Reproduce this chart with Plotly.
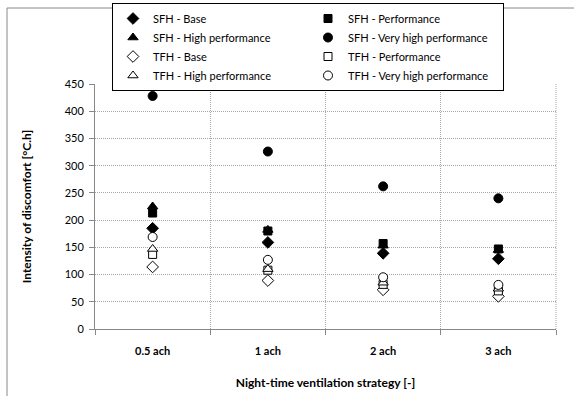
import plotly.graph_objects as go

categories = ["0.5 ach", "1 ach", "2 ach", "3 ach"]

sfh_base = [185, 159, 139, 129]
sfh_perf = [213, 180, 157, 147]
sfh_high = [225, 182, 153, 145]
sfh_vhigh = [428, 326, 262, 240]
tfh_base = [114, 89, 72, 60]
tfh_perf = [137, 108, 82, 70]
tfh_high = [147, 110, 85, 74]
tfh_vhigh = [169, 127, 95, 81]

y_ticks = [0, 50, 100, 150, 200, 250, 300, 350, 400, 450]

series = [
    ("SFH - Base", sfh_base, "diamond", "black", 9),
    ("SFH - Performance", sfh_perf, "square", "black", 8),
    ("SFH - High performance", sfh_high, "triangle-up", "black", 9),
    ("SFH - Very high performance", sfh_vhigh, "circle", "black", 9),
    ("TFH - Base", tfh_base, "diamond", "white", 9),
    ("TFH - Performance", tfh_perf, "square", "white", 8),
    ("TFH - High performance", tfh_high, "triangle-up", "white", 9),
    ("TFH - Very high performance", tfh_vhigh, "circle", "white", 9),
]

fig = go.Figure()
for name, vals, sym, col, size in series:
    fig.add_trace(go.Scatter(
        x=categories, y=vals, mode="markers", name=name,
        marker=dict(symbol=sym, color=col, size=size,
                    line=dict(color="black", width=1)),
    ))

W, H = 574, 405
L, R, T, B = 95, 556, 84, 329
GRID = "#a8a8a8"
DOT = "1px,1px"

fig.update_layout(
    width=W, height=H,
    margin=dict(l=L, r=W - R, t=T, b=H - B, autoexpand=False),
    paper_bgcolor="white", plot_bgcolor="white",
    font=dict(family="Lato, Open Sans, sans-serif", size=11, color="black"),
    showlegend=True,
    legend=dict(
        orientation="h", entrywidth=150, entrywidthmode="pixels",
        x=(112 - L) / (R - L), xanchor="left",
        y=(B - 3) / (B - T), yanchor="top",
        bordercolor="black", borderwidth=1, bgcolor="white",
        font=dict(size=11), itemsizing="trace",
        tracegroupgap=0, itemwidth=30,
    ),
    xaxis=dict(
        type="category", tickson="boundaries",
        showgrid=True, gridcolor=GRID, griddash=DOT, gridwidth=1,
        showline=True, linecolor="#888888", linewidth=1,
        ticks="outside", ticklen=5, tickcolor="#888888",
        tickfont=dict(size=11, color="black", family="Lato, sans-serif", weight="bold"),
        ticklabelstandoff=12,
        title=dict(text="<b>Night-time ventilation strategy [-]</b>",
                   font=dict(size=12), standoff=22),
        range=[-0.5, 3.5],
    ),
    yaxis=dict(
        range=[0, 450], tickvals=y_ticks,
        showgrid=True, gridcolor=GRID, griddash=DOT, gridwidth=1,
        showline=True, linecolor="#888888", linewidth=1,
        ticks="outside", ticklen=5, tickcolor="#888888",
        tickfont=dict(size=11, color="black"),
        ticklabelstandoff=3,
        title=dict(text="<b>Intensity of discomfort [°C.h]</b>",
                   font=dict(size=12), standoff=30),
        zeroline=False,
    ),
    shapes=[
        dict(type="line", xref="paper", yref="paper",
             x0=(7 - L) / (R - L), x1=(W - L) / (R - L),
             y0=(B - 8) / (B - T), y1=(B - 8) / (B - T),
             line=dict(color="#888888", width=1)),
        dict(type="line", xref="paper", yref="paper",
             x0=(7 - L) / (R - L), x1=(7 - L) / (R - L),
             y0=(B - 8) / (B - T), y1=(B - 396) / (B - T),
             line=dict(color="#888888", width=1)),
        dict(type="line", xref="paper", yref="paper",
             x0=1, x1=1, y0=0, y1=1,
             line=dict(color=GRID, width=1, dash=DOT)),
    ],
)

fig.write_html("out.html")
